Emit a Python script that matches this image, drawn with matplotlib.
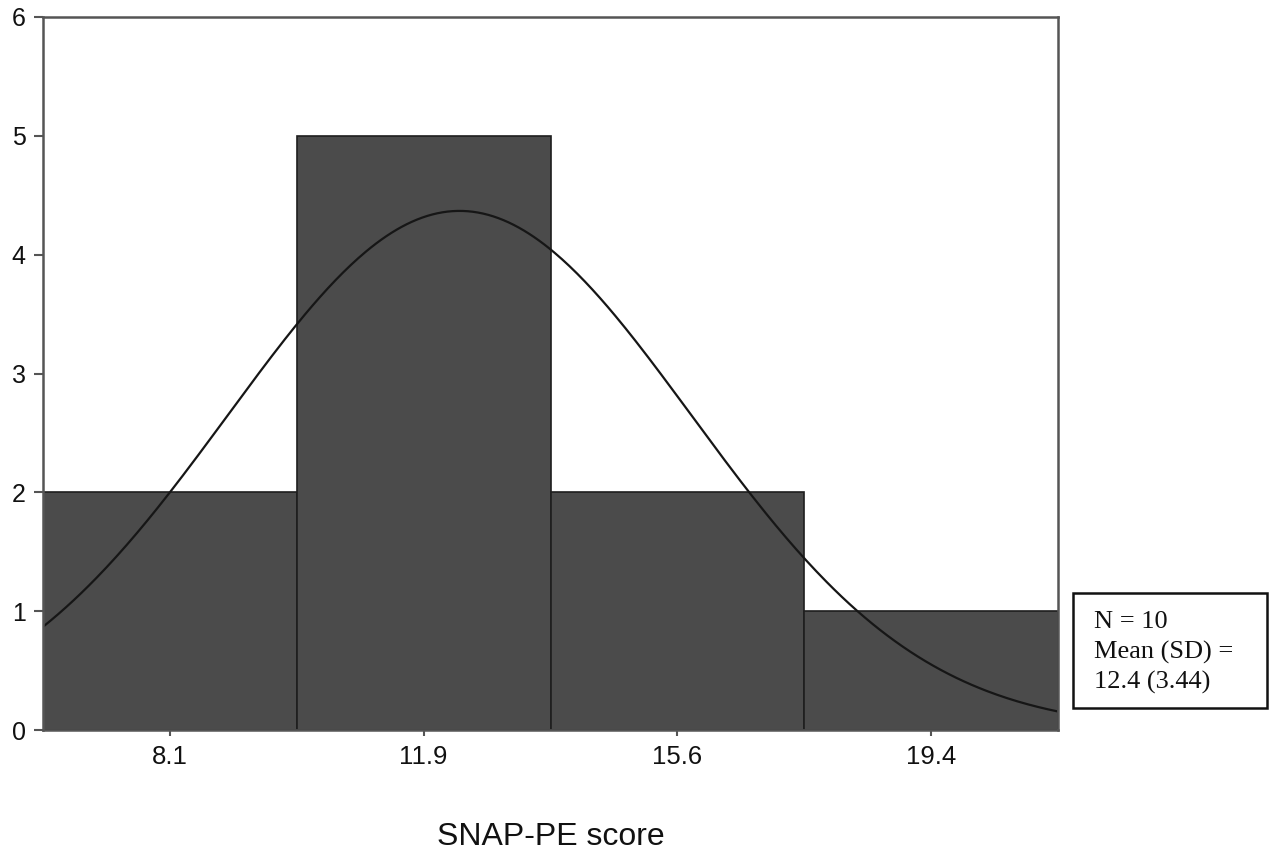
import numpy as np
import matplotlib.pyplot as plt

# Histogram of SNAP-PE scores with fitted normal curve.
bin_centres = [8.1, 11.9, 15.6, 19.4]
tick_labels = ["8.1", "11.9", "15.6", "19.4"]
counts = [2, 5, 2, 1]
n_obs = 10
mean_score = 12.4
sd_score = 3.44
summary_lines = [
    f"N = {n_obs}",
    "Mean (SD) =",
    f"{mean_score} ({sd_score})",
]

bin_width = (bin_centres[-1] - bin_centres[0]) / (len(bin_centres) - 1)
left_edges = bin_centres[0] - bin_width / 2 + bin_width * np.arange(len(counts))
x_lo = left_edges[0]
x_hi = left_edges[-1] + bin_width

W, H = 1275, 856
fig = plt.figure(figsize=(W / 100, H / 100), dpi=100)
ax = fig.add_axes([43 / W, 1 - 730 / H, (1058 - 43) / W, (730 - 17) / H])

ax.bar(
    left_edges,
    counts,
    width=bin_width,
    align="edge",
    color="#4b4b4b",
    edgecolor="#1e1e1e",
    linewidth=1.2,
    zorder=2,
)

# Normal curve scaled to counts.
xs = np.linspace(x_lo, x_hi, 400)
dens = np.exp(-0.5 * ((xs - mean_score) / sd_score) ** 2) / (sd_score * np.sqrt(2 * np.pi))
ax.plot(xs, dens * n_obs * bin_width, color="#161616", linewidth=1.6, zorder=3)

ax.set_xlim(x_lo, x_hi)
ax.set_ylim(0, 6)
ax.set_xticks(left_edges + bin_width / 2)
ax.set_xticklabels(tick_labels)
ax.set_yticks(range(7))

for side in ["left", "right", "top", "bottom"]:
    ax.spines[side].set_color("#555555")
    ax.spines[side].set_linewidth(1.8)
    ax.spines[side].set_zorder(4)

ax.tick_params(direction="out", width=1.5, color="#555555", labelcolor="#111111")
ax.tick_params(axis="y", length=6.5, pad=6, labelsize=18)
ax.tick_params(axis="x", length=4.5, pad=6, labelsize=18.5)
for lab in ax.get_xticklabels() + ax.get_yticklabels():
    lab.set_fontfamily("Liberation Sans")

fig.text(
    551 / W, 1 - 845 / H, "SNAP-PE score",
    ha="center", va="baseline",
    fontsize=23, family="Liberation Sans", color="#111111",
)

# Summary box to the right of the plot.
fig.patches.append(
    plt.Rectangle(
        (1073 / W, 1 - 708 / H),
        194 / W,
        115 / H,
        transform=fig.transFigure,
        facecolor="white",
        edgecolor="#111111",
        linewidth=1.8,
    )
)
for line, base in zip(summary_lines, [628, 659, 689]):
    fig.text(
        1094 / W, 1 - base / H, line,
        ha="left", va="baseline",
        fontsize=19, family="Liberation Serif", color="#111111",
    )

fig.savefig("out.png", dpi=100)
